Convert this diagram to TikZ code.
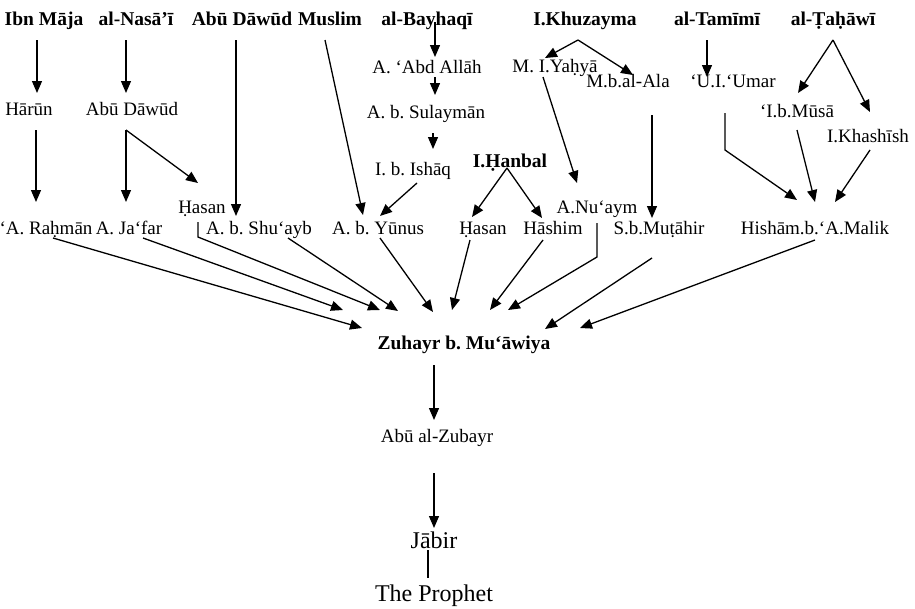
\documentclass[tikz,border=0pt]{standalone}
\usepackage{fontspec}
\setmainfont{Liberation Serif}
\usetikzlibrary{arrows.meta}
\frenchspacing
\tikzset{
  reg/.style={anchor=base,inner sep=0pt,font=\fontsize{19}{21}\selectfont},
  bld/.style={anchor=base,inner sep=0pt,font=\fontsize{19.5}{22}\selectfont\bfseries},
  big/.style={anchor=base,inner sep=0pt,font=\fontsize{24}{26}\selectfont},
  arr/.style={line width=1.3pt,-{Triangle[length=12pt,width=10pt]}},
  ln/.style={line width=1.3pt}
}
\begin{document}
\begin{tikzpicture}[x=1pt,y=-1pt]
\useasboundingbox (0,0) rectangle (915,608);
% top row
\node[bld] (ibn) at (44,25) {Ibn Māja};
\node[bld] (nas) at (136,25) {al-Nasā’ī};
\node[bld] (abud) at (242,25) {Abū Dāwūd};
\node[bld] (mus) at (330,25) {Muslim};
\node[bld] (bay) at (427,25) {al-Bayhaqī};
\node[bld] (khu) at (585,25) {I.Khuzayma};
\node[bld] (tam) at (717,25) {al-Tamīmī};
\node[bld] (tah) at (833,25) {al-Ṭaḥāwī};
% intermediate
\node[reg] (abdallah) at (427,73) {A. ‘Abd Allāh};
\node[reg] (yahya) at (555,72) {M. I.Yaḥyā};
\node[reg] (ala) at (628,87) {M.b.al-Ala};
\node[reg] (umar) at (733,87) {‘U.I.‘Umar};
\node[reg] (musa) at (797,117) {‘I.b.Mūsā};
\node[reg] (harun) at (29,115) {Hārūn};
\node[reg] (abud2) at (132,115) {Abū Dāwūd};
\node[reg] (sul) at (426,118) {A. b. Sulaymān};
\node[reg] (khash) at (868,142) {I.Khashīsh};
\node[reg] (ishaq) at (413,175) {I. b. Ishāq};
\node[bld] (hanbal) at (510,167) {I.Ḥanbal};
\node[reg] (hasan1) at (202,213) {Ḥasan};
\node[reg] (nuaym) at (597,213) {A.Nu‘aym};
% row 3
\node[reg] (rahman) at (46,234) {‘A. Raḥmān};
\node[reg] (jafar) at (129,234) {A. Ja‘far};
\node[reg] (shuayb) at (259,234) {A. b. Shu‘ayb};
\node[reg] (yunus) at (378,234) {A. b. Yūnus};
\node[reg] (hasan2) at (483,234) {Ḥasan};
\node[reg] (hashim) at (553,234) {Hāshim};
\node[reg] (mutahir) at (659,234) {S.b.Muṭāhir};
\node[reg] (hisham) at (815,234) {Hishām.b.‘A.Malik};
% bottom chain
\node[bld] (zuh) at (464,349) {Zuhayr b. Mu‘āwiya};
\node[reg] (zub) at (437,442) {Abū al-Zubayr};
\node[big] (jabir) at (434,548) {Jābir};
\node[big] (proph) at (434,601) {The Prophet};
% connectors
\draw[arr] ([shift={(-7,15)}]ibn.base) -- ([shift={(8,-22)}]harun.base);
\draw[arr] ([shift={(-10,15)}]nas.base) -- ([shift={(-6,-22)}]abud2.base);
\draw[arr] ([shift={(7,15)}]harun.base) -- ([shift={(-10,-32)}]rahman.base);
\draw[arr] ([shift={(-6,15)}]abud2.base) -- ([shift={(-3,-32)}]jafar.base);
\draw[arr] ([shift={(-6,15)}]abud2.base) -- ([shift={(-4,-30)}]hasan1.base);
\draw[arr] ([shift={(-6,15)}]abud.base) -- ([shift={(-23,-18)}]shuayb.base);
\draw[arr] ([shift={(-5,15)}]mus.base) -- ([shift={(-15,-19)}]yunus.base);
\draw[arr] ([shift={(8,-3)}]bay.base) -- ([shift={(8,-16)}]abdallah.base);
\draw[arr] ([shift={(8,4)}]abdallah.base) -- ([shift={(9,-23)}]sul.base);
\draw[arr] ([shift={(7,15)}]sul.base) -- ([shift={(20,-26)}]ishaq.base);
\draw[arr] ([shift={(4,8)}]ishaq.base) -- ([shift={(2,-18)}]yunus.base);
\draw[arr] ([shift={(-7,15)}]khu.base) -- ([shift={(-10,-14)}]yahya.base);
\draw[arr] ([shift={(-7,15)}]khu.base) -- ([shift={(5,-12)}]ala.base);
\draw[arr] ([shift={(-10,15)}]tam.base) -- ([shift={(-26,-10)}]umar.base);
\draw[arr] ([shift={(0,15)}]tah.base) -- ([shift={(1,-24)}]musa.base);
\draw[arr] ([shift={(0,15)}]tah.base) -- ([shift={(2,-30)}]khash.base);
\draw[arr] ([shift={(-12,5)}]yahya.base) -- ([shift={(-20,-30)}]nuaym.base);
\draw[arr] ([shift={(-3,1)}]hanbal.base) -- ([shift={(-11,-17)}]hasan2.base);
\draw[arr] ([shift={(-3,1)}]hanbal.base) -- ([shift={(-11,-16)}]hashim.base);
\draw[arr] ([shift={(24,28)}]ala.base) -- ([shift={(-7,-16)}]mutahir.base);
\draw[arr] ([shift={(-8,26)}]umar.base) -- ([shift={(-8,63)}]umar.base) -- ([shift={(-18,-34)}]hisham.base);
\draw[arr] ([shift={(0,13)}]musa.base) -- ([shift={(0,-32)}]hisham.base);
\draw[arr] ([shift={(2,8)}]khash.base) -- ([shift={(20,-32)}]hisham.base);
\draw[arr] ([shift={(7,4)}]rahman.base) -- ([shift={(-102,-21)}]zuh.base);
\draw[arr] ([shift={(14,4)}]jafar.base) -- ([shift={(-121,-39)}]zuh.base);
\draw[arr] ([shift={(-4,9)}]hasan1.base) -- ([shift={(-4,24)}]hasan1.base) -- ([shift={(-84,-39)}]zuh.base);
\draw[arr] ([shift={(29,4)}]shuayb.base) -- ([shift={(-66,-38)}]zuh.base);
\draw[arr] ([shift={(2,4)}]yunus.base) -- ([shift={(-31,-37)}]zuh.base);
\draw[arr] ([shift={(-13,6)}]hasan2.base) -- ([shift={(-12,-39)}]zuh.base);
\draw[arr] ([shift={(-10,6)}]hashim.base) -- ([shift={(26,-39)}]zuh.base);
\draw[arr] ([shift={(0,10)}]nuaym.base) -- ([shift={(0,44)}]nuaym.base) -- ([shift={(44,-39)}]zuh.base);
\draw[arr] ([shift={(-7,24)}]mutahir.base) -- ([shift={(81,-20)}]zuh.base);
\draw[arr] ([shift={(0,6)}]hisham.base) -- ([shift={(116,-21)}]zuh.base);
\draw[arr] ([shift={(-30,16)}]zuh.base) -- ([shift={(-3,-22)}]zub.base);
\draw[arr] ([shift={(-3,31)}]zub.base) -- ([shift={(0,-20)}]jabir.base);
\draw[ln] ([shift={(-6,2)}]jabir.base) -- ([shift={(-6,-23)}]proph.base);
\end{tikzpicture}
\end{document}
